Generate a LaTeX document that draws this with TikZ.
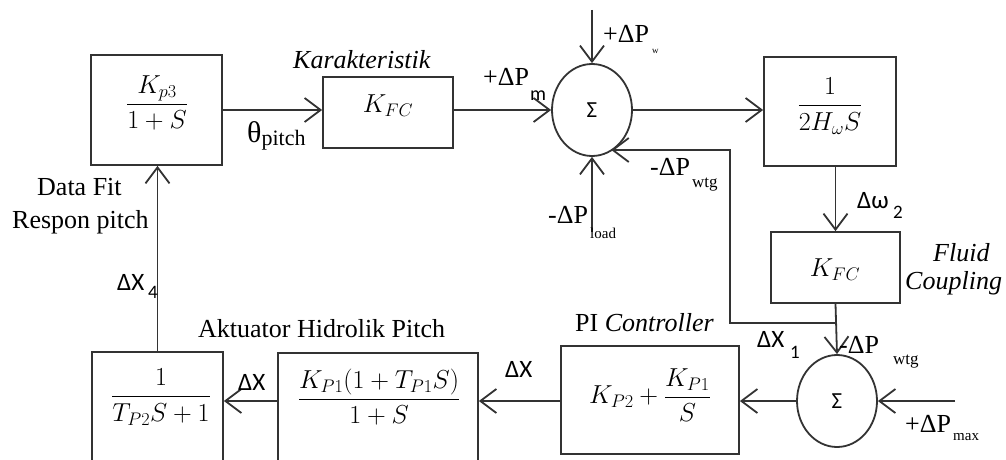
\documentclass[tikz,border=0pt]{standalone}
\usepackage{fix-cm}
\usepackage{amsmath}
\usepackage{fontspec}
\setmainfont{Liberation Serif}
\newfontfamily\tms{Liberation Serif}
\newfontfamily\calib{Carlito}
\usetikzlibrary{arrows.meta,shapes.geometric}
\tikzset{
  ln/.style={draw=black!80, line width=1.8pt},
  blk/.style={ln, rectangle, inner sep=0pt},
  sumnode/.style={ln, ellipse, minimum width=80pt, minimum height=92pt, inner sep=0pt, font=\calib\fontsize{23}{26}\selectfont},
  arr/.style={ln, -{Straight Barb[length=16pt,width=24pt,line width=1.8pt]}},
  lbl/.style={anchor=base west, inner sep=0pt, font=\tms\fontsize{26}{30}\selectfont},
  lblit/.style={anchor=base west, inner sep=0pt, font=\tms\itshape\fontsize{26}{30}\selectfont},
  lsans/.style={anchor=base west, inner sep=0pt, font=\calib\fontsize{25}{28}\selectfont},
  ssans/.style={anchor=base west, inner sep=0pt, font=\calib\fontsize{19}{21}\selectfont},
  sser/.style={anchor=base west, inner sep=0pt, font=\tms\fontsize{17}{19}\selectfont},
  mth/.style={inner sep=0pt, font=\fontsize{26}{31}\selectfont},
}
\begin{document}
\begin{tikzpicture}[x=1pt,y=-1pt]
\useasboundingbox (0,0) rectangle (1006,460);
\clip (0,0) rectangle (1006,460);
\fill[white] (0,0) rectangle (1006,460);

% blocks
\node[blk, minimum width=131pt, minimum height=110pt] (b1) at (156.5,110) {};
\node[mth] (b1t) at (157,103) {$\dfrac{K_{p3}}{1+S}$};
\node[blk, minimum width=130pt, minimum height=71pt] (b2) at (388,112.5) {};
\node[mth] (b2t) at (388,106) {$K_{FC}$};
\node[sumnode] (s1) at (592,110) {Σ};
\node[blk, minimum width=132pt, minimum height=109pt] (b3) at (830,111.5) {};
\node[mth] (b3t) at (830,106) {$\dfrac{1}{2H_\omega S}$};
\node[blk, minimum width=129pt, minimum height=71pt] (b4) at (835.5,267.5) {};
\node[mth] (b4t) at (835,270) {$K_{FC}$};
\node[sumnode] (s2) at (837,401) {Σ};
\node[blk, minimum width=178pt, minimum height=108pt] (pi) at (650,400) {};
\node[mth] (pit) at (650,395) {$K_{P2}+\dfrac{K_{P1}}{S}$};
\node[blk, minimum width=200pt, minimum height=117pt] (act) at (378,411.5) {};
\node[mth] (actt) at (379,397) {$\dfrac{K_{P1}(1+T_{P1}S)}{1+S}$};
\node[blk, minimum width=131pt, minimum height=118pt] (lb) at (157.5,411) {};
\node[mth] (lbt) at (161,397) {$\dfrac{1}{T_{P2}S+1}$};

% free ends
\coordinate (win) at (592,10);
\coordinate (loadin) at (592,232);
\coordinate (maxin) at (955,401);
\coordinate (j) at (835.5,323);
\coordinate (fa) at (730,323);
\coordinate (fb) at (730,150);

% connectors
\draw[arr] (b1.east) -- (b1.east -| b2.west);
\draw[arr] (b2.east |- s1.west) -- (s1.west);
\draw[arr] (win) -- (s1.north);
\draw[arr] (loadin) -- (s1.south);
\draw[arr] (s1.east) -- (s1.east -| b3.west);
\draw[arr] (b4.north |- b3.south) -- (b4.north);
\draw[arr] (b4.south) -- (s2.north);
\draw[arr] (j) -- (fa) -- (fb) -- (fb -| s1.-65);
\draw[arr] (maxin) -- (s2.east);
\draw[arr] (s2.west) -- (s2.west -| pi.east);
\draw[arr] (pi.west |- s2.west) -- (s2.west -| act.east);
\draw[arr] (act.west |- s2.west) -- (s2.west -| lb.east);
\draw[arr] (lb.north) -- (lb.north |- b1.south);

% labels
\node[lbl] (lth) at (247,142) {{\fontsize{30}{32}\selectfont θ}\raisebox{-3pt}{\fontsize{22}{24}\selectfont pitch}};
\node[lblit] (lkar) at (293,68) {Karakteristik};
\node[lbl] (lpm) at (483,85) {+ΔP};
\node[ssans, font=\calib\fontsize{20}{22}\selectfont] (lpms) at (530,100) {m};
\node[lbl] (lpw) at (603,43) {+ΔP};
\node[sser, font=\tms\fontsize{9}{10}\selectfont] (lpws) at (652,53) {w};
\node[lbl] (lpl) at (548,223) {-ΔP};
\node[sser, font=\tms\fontsize{15}{17}\selectfont] (lpls) at (590,238) {load};
\node[lbl] (lpt) at (650,175) {-ΔP};
\node[sser] (lpts) at (692,187) {wtg};
\node[lsans] (lw) at (857,208) {Δω};
\node[ssans] (lws) at (893,218) {2};
\node[lblit] (lfl) at (933,261) {Fluid};
\node[lblit] (lco) at (905,289) {Coupling};
\node[lbl] (lpt2) at (839,353) {-ΔP};
\node[sser] (lpt2s) at (893,364) {wtg};
\node[lbl] (lpx) at (905,432) {+ΔP};
\node[sser, font=\tms\fontsize{15}{17}\selectfont] (lpxs) at (953,440) {max};
\node[lsans] (lx1) at (757,347) {ΔX};
\node[ssans] (lx1s) at (790,358) {1};
\node[lsans] (lxa) at (505,377) {ΔX};
\node[lsans] (lxb) at (238,390) {ΔX};
\node[lsans] (lx4) at (117,290) {ΔX};
\node[ssans] (lx4s) at (148,298) {4};
\node[lbl] (ldf) at (37,195) {Data Fit};
\node[lbl] (lrp) at (12,228) {Respon pitch};
\node[lbl] (lak) at (198,337) {Aktuator Hidrolik Pitch};
\node[lbl] (lpi) at (575,331) {PI \textit{Controller}};
\end{tikzpicture}
\end{document}
